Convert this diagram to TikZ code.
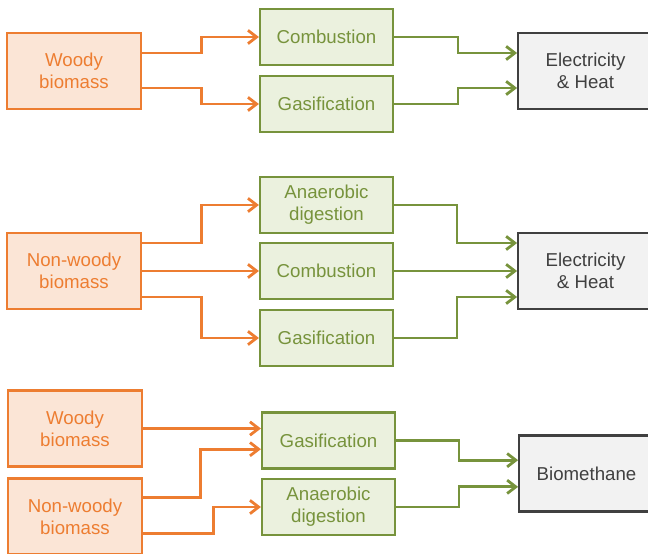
\documentclass[tikz,border=0pt]{standalone}
\usepackage{fontspec}
\setmainfont{Liberation Sans}
\usetikzlibrary{arrows.meta}
\usepackage{xcolor}
\definecolor{orLine}{HTML}{ED7D31}
\definecolor{orFill}{HTML}{FBE5D6}
\definecolor{grLine}{HTML}{77933C}
\definecolor{grFill}{HTML}{EBF1DE}
\definecolor{gyLine}{HTML}{404040}
\definecolor{gyFill}{HTML}{F2F2F2}

\begin{document}
\begin{tikzpicture}[x=0.75pt,y=-0.75pt,
  every node/.style={font=\fontsize{14}{16.5}\selectfont, align=center, inner sep=0pt},
  feed/.style={draw=orLine,fill=orFill,text=orLine,line width=1.6pt,minimum width=100pt,minimum height=57pt},
  proc/.style={draw=grLine,fill=grFill,text=grLine,line width=1.6pt,minimum width=99.75pt,minimum height=42pt},
  prod/.style={draw=gyLine,fill=gyFill,text=gyLine,line width=1.6pt,minimum width=101pt,minimum height=57pt},
  oarr/.style={draw=orLine,line width=2.1pt,-{Straight Barb[length=6.5pt,width=10pt]}},
  garr/.style={draw=grLine,line width=2.1pt,-{Straight Barb[length=6.5pt,width=10pt]}}]

  \useasboundingbox (0,0) rectangle (648,553);

  % %Woody biomass to power
  \node[feed] (WoBi1) at (74,71) {Woody\\biomass};
  \node[proc] (Co1) at (326.5,37) {Combustion};
  \node[proc] (Ga1) at (326.5,104) {Gasification};
  \node[prod] (ElHe1) at (585.5,71) {Electricity\\\& Heat};

  \draw[oarr] ([yshift=13.5pt]WoBi1.east) -- ++(60,0) |- (Co1.west);
  \draw[oarr] ([yshift=-12.75pt]WoBi1.east) -- ++(60,0) |- (Ga1.west);
  \draw[garr] (Co1.east) -- ++(64,0) |- ([yshift=13.5pt]ElHe1.west);
  \draw[garr] (Ga1.east) -- ++(64,0) |- ([yshift=-12.75pt]ElHe1.west);

  % %Non-woody biomass to power
  \node[feed] (NoBi2) at (74,271) {Non-woody\\biomass};
  \node[proc] (AnDi2) at (326.5,205) {Anaerobic\\digestion};
  \node[proc] (Co2) at (326.5,271) {Combustion};
  \node[proc] (Ga2) at (326.5,338) {Gasification};
  \node[prod] (ElHe2) at (585.5,271) {Electricity\\\& Heat};

  \draw[oarr] ([yshift=21pt]NoBi2.east) -- ++(60,0) |- (AnDi2.west);
  \draw[oarr] (NoBi2.east) to (Co2.west);
  \draw[oarr] ([yshift=-19.5pt]NoBi2.east) -- ++(60,0) |- (Ga2.west);
  \draw[garr] (AnDi2.east) -- ++(63,0) |- ([yshift=21pt]ElHe2.west);
  \draw[garr] (Co2.east) to (ElHe2.west);
  \draw[garr] (Ga2.east) -- ++(63,0) |- ([yshift=-19.5pt]ElHe2.west);

  % %both to biomethane
  \node[feed] (WoBi3) at (75,428.5) {Woody\\biomass};
  \node[feed] (NoBi3) at (75,516.5) {Non-woody\\biomass};
  \node[proc] (Ga3) at (328.5,440.5) {Gasification};
  \node[proc] (AnDi3) at (328.5,507) {Anaerobic\\digestion};
  \node[prod] (BiMe) at (586.5,473.5) {Biomethane};

  \draw[oarr] (WoBi3.east) -- (WoBi3.east -| Ga3.west);
  \draw[oarr] ([yshift=14.5pt]NoBi3.east) -- ++(58,0) |- ([yshift=-6.5pt]Ga3.west);
  \draw[oarr] ([yshift=-13pt]NoBi3.east) -- ++(71,0) |- (AnDi3.west);
  \draw[garr] (Ga3.east) -- ++(63,0) |- ([yshift=10pt]BiMe.west);
  \draw[garr] (AnDi3.east) -- ++(63,0) |- ([yshift=-10pt]BiMe.west);

\end{tikzpicture}
\end{document}
